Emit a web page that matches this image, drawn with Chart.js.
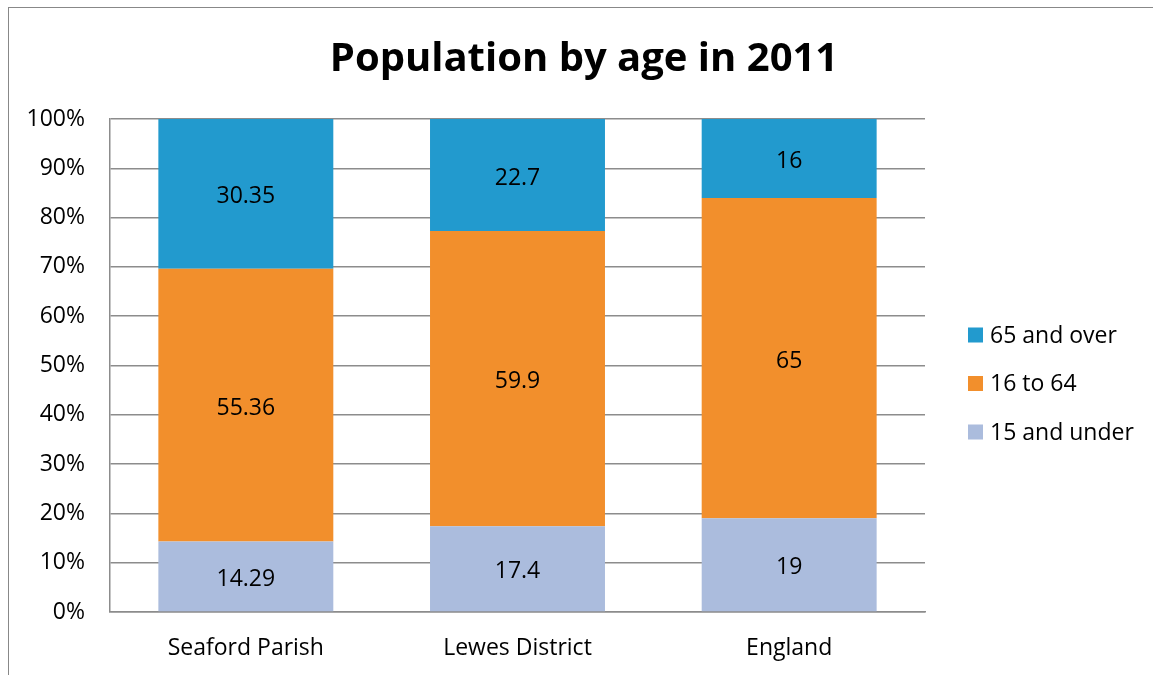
<!DOCTYPE html>
<html>
<head>
<meta charset="utf-8">
<script src="https://cdn.jsdelivr.net/npm/chart.js@4.4.0/dist/chart.umd.min.js"></script>
<style>
  html, body { margin: 0; padding: 0; background: #fff; }
  #wrap { position: relative; width: 1153px; height: 675px; }
  #frame { position: absolute; left: 8px; top: 7px; right: -2px; bottom: -2px;
           border-left: 1px solid #888; border-top: 1px solid #888; }
  canvas { position: absolute; left: 0; top: 0; }
</style>
</head>
<body>
<div id="wrap">
  <div id="frame"></div>
  <canvas id="myChart" width="1153" height="675"></canvas>
</div>
<script>
// data
const places = ['Seaford Parish', 'Lewes District', 'England']
const under15 = [14.29, 17.4, 19]
const age16to64 = [55.36, 59.9, 65]
const over65 = [30.35, 22.7, 16]
const yTicks = [0, 10, 20, 30, 40, 50, 60, 70, 80, 90, 100]
const chartTitle = 'Population by age in 2011'

const fontFamily = "'Open Sans', sans-serif"
const gridGray = '#8c8c8c'
const textSize = 23

// write the value in the middle of each segment
const segmentLabels = {
  id: 'segmentLabels',
  afterDatasetsDraw(chart) {
    const c = chart.ctx
    c.save()
    c.font = `${textSize}px ${fontFamily}`
    c.fillStyle = '#000'
    c.textAlign = 'center'
    c.textBaseline = 'middle'
    chart.data.datasets.forEach((ds, i) => {
      chart.getDatasetMeta(i).data.forEach((bar, j) => {
        const mid = (bar.y + bar.base) / 2
        c.fillText(String(ds.data[j]), bar.x, mid + 3)
      })
    })
    c.restore()
  }
}

// title centred on the page + legend on the right (top series first)
const titleAndLegend = {
  id: 'titleAndLegend',
  afterDraw(chart) {
    const c = chart.ctx
    c.save()
    c.fillStyle = '#000'
    c.textAlign = 'center'
    c.textBaseline = 'middle'
    c.font = `bold 40px ${fontFamily}`
    c.fillText(chartTitle, 584, 60)

    c.font = `${textSize}px ${fontFamily}`
    c.textAlign = 'left'
    const sets = chart.data.datasets.slice().reverse()
    sets.forEach((ds, k) => {
      const y = 335 + k * 48.5
      c.fillStyle = ds.backgroundColor
      c.fillRect(968, y - 7.5, 15, 15)
      c.fillStyle = '#000'
      c.fillText(ds.label, 990, y + 1)
    })
    c.restore()
  }
}

const ctx = document.getElementById('myChart')
Chart.defaults.font.family = fontFamily

new Chart(ctx, {
  type: 'bar',
  data: {
    labels: places,
    datasets: [
      { label: '15 and under', data: under15, backgroundColor: '#abbcdd' },
      { label: '16 to 64', data: age16to64, backgroundColor: '#f28f2c' },
      { label: '65 and over', data: over65, backgroundColor: '#229ace' }
    ]
  },
  options: {
    responsive: false,
    animation: false,
    layout: { padding: { left: 8, right: 228, top: 119, bottom: 0 } },
    categoryPercentage: 0.644,
    barPercentage: 1,
    plugins: {
      title: { display: false },
      legend: { display: false },
      tooltip: { enabled: false }
    },
    scales: {
      x: {
        stacked: true,
        afterFit: (scale) => { scale.height = 63 },
        grid: { display: false, drawTicks: false },
        border: { color: gridGray, width: 1.5 },
        ticks: { color: '#000', font: { size: textSize }, padding: 23 }
      },
      y: {
        stacked: true,
        min: 0,
        max: 100,
        afterFit: (scale) => { scale.width = 102 },
        afterBuildTicks: (scale) => { scale.ticks = yTicks.map(v => ({ value: v })) },
        grid: { color: gridGray, lineWidth: 1.5, drawTicks: false },
        border: { color: gridGray, width: 1.5 },
        ticks: {
          color: '#000',
          font: { size: textSize },
          padding: 25,
          callback: (v) => v + '%'
        }
      }
    }
  },
  plugins: [segmentLabels, titleAndLegend]
})
</script>
</body>
</html>
